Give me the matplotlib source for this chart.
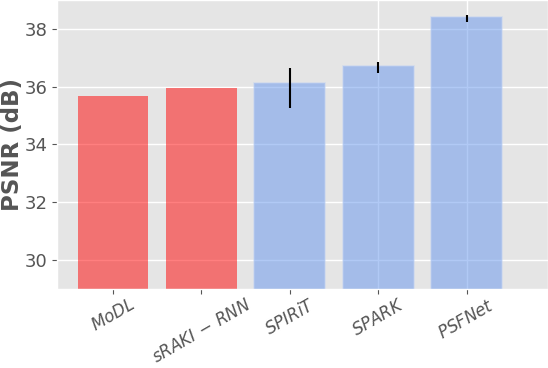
import matplotlib
matplotlib.use("Agg")
import matplotlib.pyplot as plt
import numpy as np

plt.style.use("ggplot")

methods = ["$MoDL$", r"$sRAKI\,-\,RNN$", "$SPIRiT$", "$SPARK$", "$PSFNet$"]
psnr = [35.66, 35.97, 36.14, 36.72, 38.41]
err_low = [0.0, 0.0, 0.89, 0.26, 0.16]
err_high = [0.0, 0.0, 0.49, 0.15, 0.07]
colors = ["red", "red", "cornflowerblue", "cornflowerblue", "cornflowerblue"]
has_err = [False, False, True, True, True]
vlines = [3, 4]

fig = plt.figure(figsize=(5.48, 3.68), dpi=100)
ax = fig.add_axes([0.104, 0.215, 0.896, 0.785])
x = np.arange(len(methods))

ax.grid(axis="x", visible=False)
ax.grid(axis="y", color="white", linewidth=1.0)
for v in vlines:
    ax.axvline(v, color="white", linewidth=1.0, zorder=0.5)

for i in range(len(methods)):
    ec = (0.75, 0.82, 0.95, 0.8) if colors[i] != "red" else "none"
    ax.bar(x[i], psnr[i], width=0.8, color=colors[i], alpha=0.5,
           edgecolor=ec, linewidth=1.2, zorder=2)
    if has_err[i]:
        ax.errorbar(x[i], psnr[i], yerr=[[err_low[i]], [err_high[i]]],
                    fmt="none", ecolor="black", elinewidth=1.5, capsize=0, zorder=3)

ax.set_ylim(29, 39)
ax.set_xlim(-0.633, 4.92)
ax.set_yticks([30, 32, 34, 36, 38])
ax.set_xticks(x)
ax.set_xticklabels(methods, rotation=30, ha="center", fontsize=12)
ax.tick_params(axis="y", labelsize=13, colors="#555555")
ax.tick_params(axis="x", colors="#555555", pad=1.5)
ax.set_ylabel("PSNR (dB)", fontsize=16.5, fontweight="bold", color="#555555")
ax.yaxis.set_label_coords(-0.068, 0.5)

fig.savefig("out.png", dpi=100)
